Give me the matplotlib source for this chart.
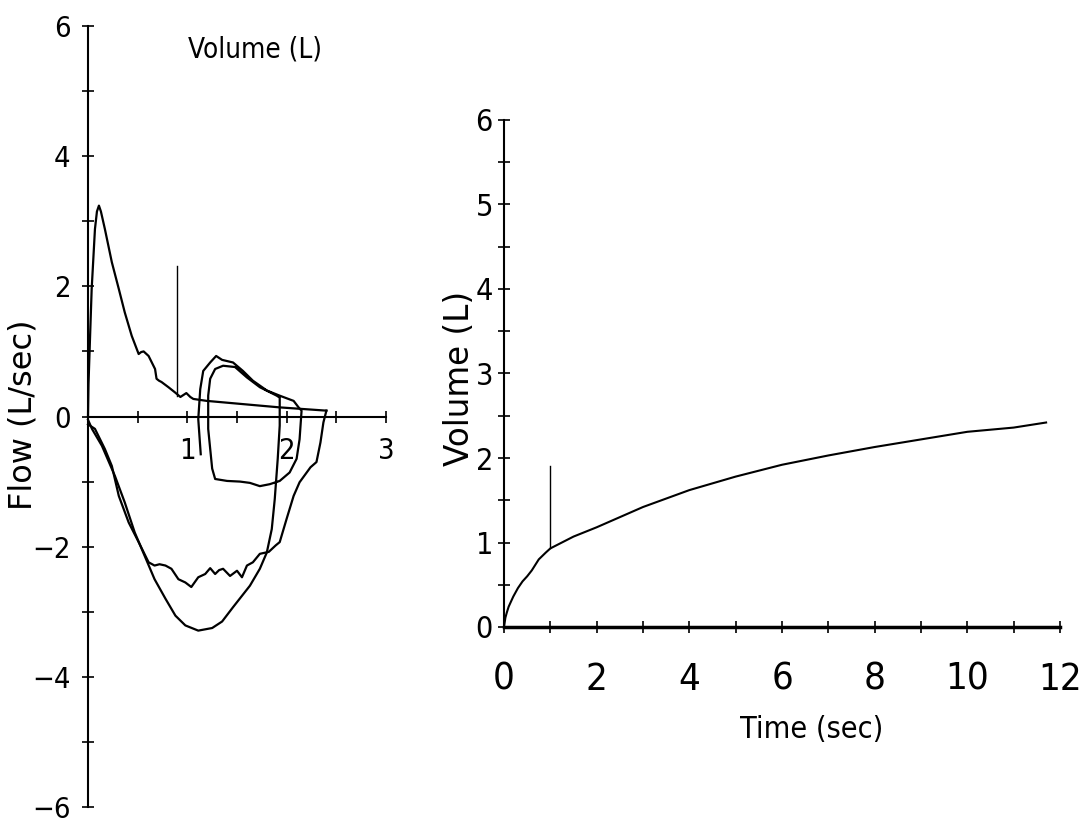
import numpy as np
import matplotlib
matplotlib.use("Agg")
from matplotlib import pyplot as plt
from matplotlib import font_manager as fm


def narrow_font():
    # pick a condensed face if one is installed
    try:
        fm.findfont(fm.FontProperties(family='Liberation Sans Narrow'),
                    fallback_to_default=False)
        return 'Liberation Sans Narrow', 'normal', 1.0
    except ValueError:
        pass
    path = fm.findfont(fm.FontProperties(family='DejaVu Sans', stretch='condensed'))
    if 'Condensed' in path:
        return 'DejaVu Sans', 'condensed', 0.95
    return 'Liberation Sans', 'normal', 0.88


NARROW, STRETCH, K = narrow_font()
plt.rcParams['font.family'] = [NARROW, 'DejaVu Sans']
plt.rcParams['font.stretch'] = STRETCH

# forced expiration, flow-volume (top half of left panel)
exp_vol = [0.0, 0.005, 0.02, 0.037, 0.07, 0.09, 0.11, 0.13, 0.17, 0.24, 0.31, 0.37,
           0.44, 0.51, 0.535, 0.56, 0.61, 0.675, 0.69, 0.715, 0.74, 0.81, 0.876,
           0.93, 0.96, 0.99, 1.03, 1.06, 1.195, 1.93, 2.40]
exp_flow = [0.0, 0.5, 1.19, 1.96, 2.88, 3.15, 3.24, 3.15, 2.88, 2.37, 1.96, 1.60,
            1.24, 0.96, 0.99, 1.0, 0.93, 0.73, 0.58, 0.55, 0.53, 0.45, 0.37,
            0.30, 0.33, 0.36, 0.30, 0.27, 0.24, 0.14, 0.09]

# forced inspiration (jagged curve)
insp_vol = [0.0, 0.07, 0.17, 0.24, 0.31, 0.41, 0.51, 0.61, 0.67, 0.72, 0.78, 0.84,
            0.91, 0.98, 1.04, 1.11, 1.18, 1.23, 1.28, 1.32, 1.36, 1.43, 1.50, 1.55,
            1.60, 1.66, 1.73, 1.82, 1.89, 1.93, 2.0, 2.07, 2.13, 2.24, 2.30, 2.34,
            2.37, 2.40]
insp_flow = [-0.12, -0.19, -0.50, -0.76, -1.22, -1.63, -1.93, -2.24, -2.29, -2.27,
             -2.29, -2.34, -2.50, -2.55, -2.62, -2.47, -2.42, -2.33, -2.42, -2.36,
             -2.34, -2.45, -2.37, -2.47, -2.29, -2.24, -2.11, -2.08, -1.98, -1.93,
             -1.57, -1.22, -1.01, -0.78, -0.70, -0.40, -0.09, 0.09]

# second trace: smooth inspiration then tidal loops
loop_vol = [0.0, 0.04, 0.14, 0.27, 0.37, 0.47, 0.57, 0.67, 0.78, 0.88, 0.98, 1.11,
            1.25, 1.35, 1.46, 1.63, 1.73, 1.80, 1.85, 1.88, 1.91, 1.93, 1.93, 1.93,
            1.90, 1.73, 1.60, 1.48, 1.36, 1.28, 1.23, 1.21, 1.21, 1.21, 1.25, 1.28,
            1.40, 1.53, 1.63, 1.73, 1.83, 1.93, 2.03, 2.10, 2.13, 2.15,
            2.12, 2.07, 1.93, 1.80, 1.66, 1.56, 1.46, 1.35, 1.29, 1.23, 1.16, 1.13,
            1.11, 1.135]
loop_flow = [-0.05, -0.19, -0.45, -0.91, -1.32, -1.78, -2.14, -2.50, -2.80, -3.06,
             -3.21, -3.29, -3.25, -3.15, -2.93, -2.60, -2.34, -2.09, -1.73, -1.27,
             -0.65, -0.14, 0.12, 0.29, 0.32, 0.45, 0.60, 0.76, 0.78, 0.73, 0.58,
             0.32, -0.01, -0.19, -0.80, -0.96, -0.99, -1.0, -1.02, -1.07, -1.04,
             -0.99, -0.86, -0.65, -0.35, 0.09,
             0.14, 0.24, 0.32, 0.40, 0.55, 0.70, 0.83, 0.87, 0.93, 0.83, 0.70, 0.42,
             -0.04, -0.58]

fev1_vol = 0.90
fev1_flow = [0.32, 2.32]

# volume-time curve
time_s = [0, 0.03, 0.06, 0.1, 0.15, 0.2, 0.3, 0.4, 0.5, 0.6, 0.75, 0.9, 1.0, 1.25,
          1.5, 2, 2.5, 3, 4, 5, 6, 7, 8, 9, 10, 11, 11.7]
vol_l = [0, 0.11, 0.17, 0.24, 0.30, 0.36, 0.46, 0.54, 0.60, 0.67, 0.80, 0.88, 0.93,
         1.00, 1.07, 1.18, 1.30, 1.42, 1.62, 1.78, 1.92, 2.03, 2.13, 2.22, 2.31,
         2.36, 2.42]
fev1_t = 1.0
fev1_v = [0.93, 1.9]

fig = plt.figure(figsize=(10.84, 8.19), dpi=100)

# ---- left panel: flow-volume loop
ax1 = fig.add_axes([88 / 1084, 12 / 819, 298 / 1084, 781 / 819])
ax1.plot(exp_vol, exp_flow, color='black', lw=1.6, clip_on=False)
ax1.plot(insp_vol, insp_flow, color='black', lw=1.6, clip_on=False)
ax1.plot(loop_vol, loop_flow, color='black', lw=1.6, clip_on=False)
ax1.plot([fev1_vol, fev1_vol], fev1_flow, color='black', lw=1.0)
ax1.set_xlim(0, 3)
ax1.set_ylim(-6, 6)
for s in ['top', 'right']:
    ax1.spines[s].set_visible(False)
ax1.spines['left'].set_position(('data', 0))
ax1.spines['bottom'].set_position(('data', 0))
for s in ['left', 'bottom']:
    ax1.spines[s].set_linewidth(1.5)
ax1.set_xticks([1, 2, 3])
ax1.set_xticks([0.5, 1.5, 2.5], minor=True)
ax1.set_yticks([-6, -4, -2, 0, 2, 4, 6])
ax1.set_yticks([-5, -3, -1, 1, 3, 5], minor=True)
ax1.tick_params(which='both', direction='inout', length=9, width=1.2)
ax1.tick_params(axis='y', labelsize=22 * K, pad=8)
ax1.tick_params(axis='x', labelsize=22 * K, pad=10)
fig.text(0.235, 0.939, 'Volume (L)', fontsize=21 * K, ha='center', va='center')
fig.text(0.021, 0.493, 'Flow (L/sec)', fontsize=23, rotation=90, ha='center',
         va='center', family='DejaVu Sans', stretch='normal')

# ---- right panel: volume-time
ax2 = fig.add_axes([504 / 1084, 192 / 819, 556 / 1084, 507 / 819])
ax2.plot(time_s, vol_l, color='black', lw=1.5)
ax2.plot([fev1_t, fev1_t], fev1_v, color='black', lw=1.0)
ax2.set_xlim(0, 12)
ax2.set_ylim(0, 6)
for s in ['top', 'right']:
    ax2.spines[s].set_visible(False)
ax2.spines['left'].set_linewidth(1.5)
ax2.spines['bottom'].set_linewidth(2.5)
ax2.set_xticks(np.arange(0, 13, 2))
ax2.set_xticks(np.arange(1, 12, 2), minor=True)
ax2.set_yticks(np.arange(0, 7, 1))
ax2.set_yticks(np.arange(0.5, 6, 1), minor=True)
ax2.tick_params(which='both', direction='inout', length=8, width=1.2)
ax2.tick_params(axis='y', labelsize=23 * K, pad=4)
ax2.tick_params(axis='x', labelsize=29 * K, pad=21)
fig.text(0.424, 0.538, 'Volume (L)', fontsize=23.5, rotation=90, ha='center',
         va='center', family='DejaVu Sans', stretch='normal')
fig.text(0.749, 0.109, 'Time (sec)', fontsize=23 * K, ha='center', va='center')

fig.savefig('out.png', dpi=100)
